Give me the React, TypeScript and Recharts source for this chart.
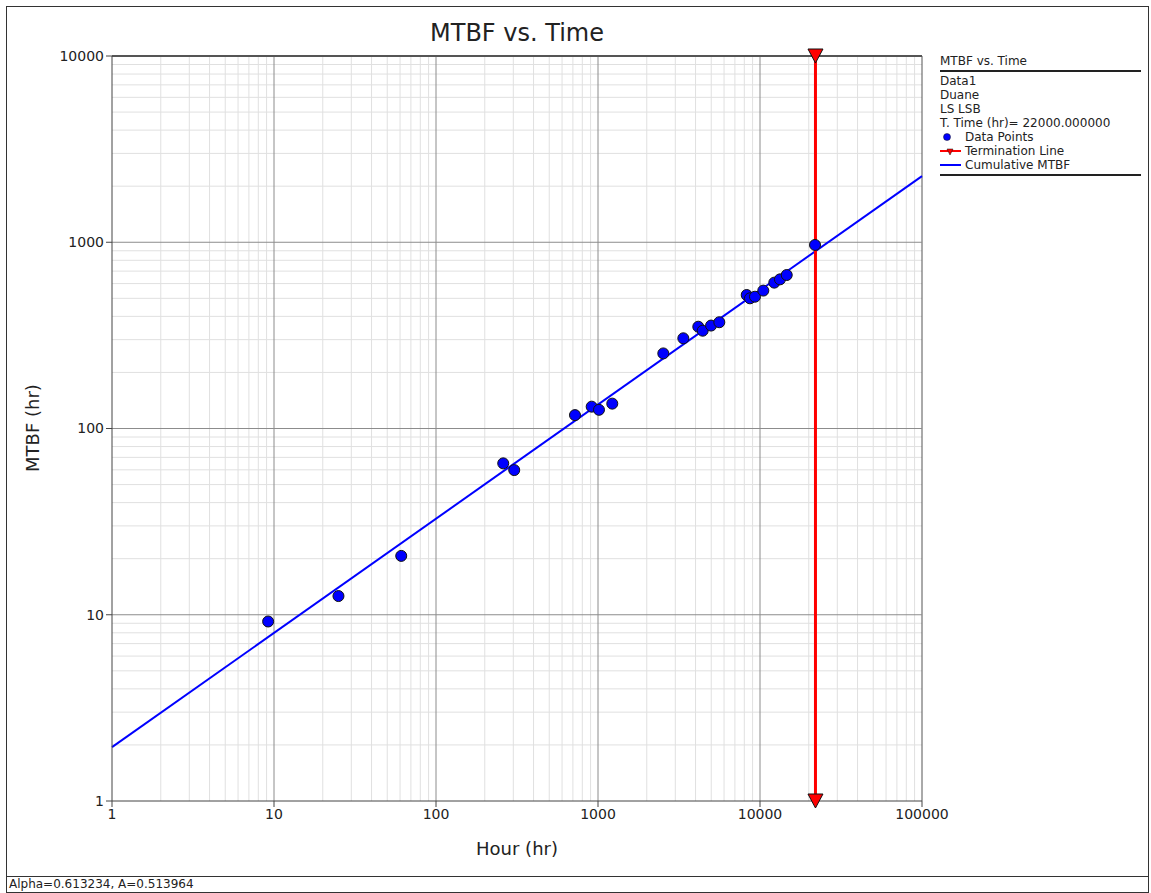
import React from 'react';
import { ComposedChart, Line, Scatter, XAxis, YAxis, ReferenceLine } from 'recharts';

// failure times (hr) and cumulative MTBF (hr)
const hours = [9.2, 25, 61, 260, 304, 721, 914, 1014, 1225, 2530, 3363, 4160, 4428, 4987, 5609, 8277, 8670, 9311, 10480, 12250, 13280, 14620, 21860];
const mtbf = [9.2, 12.6, 20.7, 65, 59.8, 118, 131, 126, 136, 253, 305, 352, 335, 357, 372, 521, 500, 510, 550, 607, 632, 667, 967];

// fitted cumulative MTBF line (Duane, Alpha=0.613234, A=0.513964), end points
const fitHours = [1, 100000];
const fitMtbf = [1.946, 2266];

// termination time
const termHours = [22000, 22000];
const termMtbf = [1, 10000];

const xTicks = [1, 10, 100, 1000, 10000, 100000];
const yTicks = [1, 10, 100, 1000, 10000];
const minorSteps = [2, 3, 4, 5, 6, 7, 8, 9];

const points = hours.map((x, i) => ({ x, y: mtbf[i] }));
const fit = fitHours.map((x, i) => ({ x, y: fitMtbf[i] }));
const term = termHours.map((x, i) => ({ x, y: termMtbf[i] }));

const xMinor = xTicks.slice(0, -1).flatMap((d) => minorSteps.map((m) => d * m));
const yMinor = yTicks.slice(0, -1).flatMap((d) => minorSteps.map((m) => d * m));

const FONT = '"DejaVu Sans", Verdana, sans-serif';

const Dot = (props: any) => {
  const { cx, cy } = props;
  if (cx == null || cy == null) return null;
  return <circle cx={cx} cy={cy} r={5.5} fill="#0000ff" stroke="#111" strokeWidth={1} />;
};

const Tri = (props: any) => {
  const { cx, cy, index } = props;
  if (cx == null || cy == null) return <g key={index} />;
  return (
    <path
      key={index}
      d={`M${cx - 7.5},${cy - 7} L${cx + 7.5},${cy - 7} L${cx},${cy + 7} Z`}
      fill="#ff0000"
      stroke="#111"
      strokeWidth={1}
    />
  );
};

const legendRow: React.CSSProperties = { height: 14, lineHeight: '14px', whiteSpace: 'nowrap' };

const App = () => {
  return (
    <div style={{ position: 'absolute', left: 0, top: 0, width: 1151, height: 893, background: '#fff', fontFamily: FONT, color: '#222' }}>
      <div style={{ position: 'absolute', left: 6, top: 6, width: 1141, height: 885, border: '1px solid #333' }} />
      <div style={{ position: 'absolute', left: 0, top: 19, width: 1034, textAlign: 'center', fontSize: 24 }}>MTBF vs. Time</div>

      <ComposedChart
        width={1151}
        height={893}
        margin={{ top: 56, right: 229, bottom: 62, left: 50 }}
        style={{ position: 'absolute', left: 0, top: 0 }}
      >
        <XAxis
          dataKey="x"
          type="number"
          scale="log"
          domain={[1, 100000]}
          ticks={xTicks}
          height={30}
          interval={0}
          tickSize={6}
          tick={{ fontSize: 14, fill: '#222', fontFamily: FONT }}
          stroke="#444"
        />
        <YAxis
          dataKey="y"
          type="number"
          scale="log"
          domain={[1, 10000]}
          ticks={yTicks}
          width={62}
          interval={0}
          tickSize={6}
          tick={{ fontSize: 14, fill: '#222', fontFamily: FONT }}
          stroke="#444"
        />
        {xMinor.map((v) => (
          <ReferenceLine key={'xm' + v} x={v} stroke="#e0e0e0" strokeWidth={1} />
        ))}
        {yMinor.map((v) => (
          <ReferenceLine key={'ym' + v} y={v} stroke="#e0e0e0" strokeWidth={1} />
        ))}
        {xTicks.slice(1).map((v) => (
          <ReferenceLine key={'xM' + v} x={v} stroke={v === 100000 ? '#555' : '#8c8c8c'} strokeWidth={1} />
        ))}
        {yTicks.slice(1).map((v) => (
          <ReferenceLine key={'yM' + v} y={v} stroke={v === 10000 ? '#555' : '#8c8c8c'} strokeWidth={v === 10000 ? 2 : 1} />
        ))}
        <Line data={fit} dataKey="y" stroke="#0000ff" strokeWidth={2} dot={false} isAnimationActive={false} />
        <Scatter data={points} dataKey="y" shape={<Dot />} isAnimationActive={false} />
        <Line data={term} dataKey="y" stroke="#ff0000" strokeWidth={3} dot={Tri} isAnimationActive={false} />
      </ComposedChart>

      <div style={{ position: 'absolute', left: 0, top: 838, width: 1034, textAlign: 'center', fontSize: 18 }}>Hour (hr)</div>
      <div
        style={{ position: 'absolute', left: 32, top: 428, fontSize: 18, whiteSpace: 'nowrap', transform: 'translate(-50%, -50%) rotate(-90deg)' }}
      >
        MTBF (hr)
      </div>

      <div style={{ position: 'absolute', left: 940, top: 54, width: 201, fontSize: 12 }}>
        <div style={{ ...legendRow, borderBottom: '2px solid #222', height: 16 }}>MTBF vs. Time</div>
        <div style={{ height: 2 }} />
        <div style={legendRow}>Data1</div>
        <div style={legendRow}>Duane</div>
        <div style={legendRow}>LS LSB</div>
        <div style={legendRow}>T. Time (hr)= 22000.000000</div>
        <div style={{ ...legendRow, position: 'relative', paddingLeft: 25 }}>
          <svg width={20} height={14} style={{ position: 'absolute', left: 0, top: 0 }}>
            <circle cx={7} cy={7} r={3.5} fill="#0000ff" stroke="#111" strokeWidth={0.5} />
          </svg>
          Data Points
        </div>
        <div style={{ ...legendRow, position: 'relative', paddingLeft: 25 }}>
          <svg width={22} height={14} style={{ position: 'absolute', left: 0, top: 0 }}>
            <line x1={0} y1={7} x2={21} y2={7} stroke="#ff0000" strokeWidth={2} />
            <path d="M7,5 L13,5 L10,11 Z" fill="#ff0000" stroke="#111" strokeWidth={0.5} />
          </svg>
          Termination Line
        </div>
        <div style={{ ...legendRow, position: 'relative', paddingLeft: 25, borderBottom: '2px solid #222', height: 16 }}>
          <svg width={22} height={14} style={{ position: 'absolute', left: 0, top: 0 }}>
            <line x1={0} y1={7} x2={21} y2={7} stroke="#0000ff" strokeWidth={2} />
          </svg>
          Cumulative MTBF
        </div>
      </div>

      <div
        style={{ position: 'absolute', left: 7, top: 876, width: 1141, height: 15, borderTop: '1px solid #333', fontSize: 12, lineHeight: '15px', paddingLeft: 2, boxSizing: 'border-box' }}
      >
        Alpha=0.613234, A=0.513964
      </div>
    </div>
  );
};

export default App;
